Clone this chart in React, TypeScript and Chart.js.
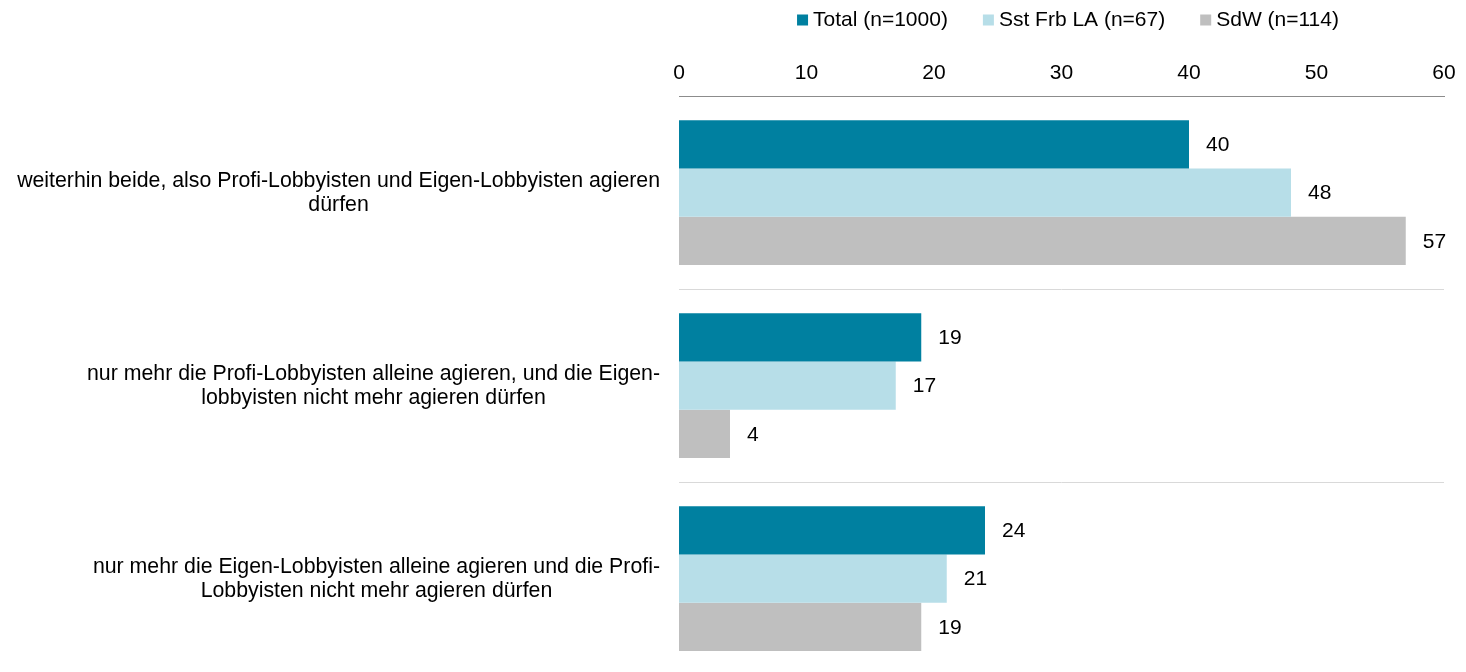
import React, { useEffect, useRef } from "react";
import { Chart, registerables } from "chart.js";

Chart.register(...registerables);

// ---- data ----
const categories: string[][] = [
  ["weiterhin beide, also Profi-Lobbyisten und Eigen-Lobbyisten agieren", "dürfen"],
  ["nur mehr die Profi-Lobbyisten alleine agieren, und die Eigen-", "lobbyisten nicht mehr agieren dürfen"],
  ["nur mehr die Eigen-Lobbyisten alleine agieren und die Profi-", "Lobbyisten nicht mehr agieren dürfen"],
];
const seriesNames = ["Total (n=1000)", "Sst Frb LA (n=67)", "SdW (n=114)"];
const totalValues = [40, 19, 24];
const sstValues = [48, 17, 21];
const sdwValues = [57, 4, 19];
const xMin = 0;
const xMax = 60;
const xStep = 10;

// ---- styles ----
const seriesColors = ["#0080A0", "#B7DEE8", "#BFBFBF"];
const FONT_FAMILY = '"Liberation Sans", Arial, Helvetica, sans-serif';
const FONT_SIZE = 21;
const LABEL_FONT_SIZE = 21.3;
const TEXT_COLOR = "#000000";

const valueLabelPlugin = {
  id: "valueLabels",
  afterDatasetsDraw(chart: any) {
    const ctx = chart.ctx;
    ctx.save();
    ctx.font = `${FONT_SIZE}px ${FONT_FAMILY}`;
    ctx.fillStyle = TEXT_COLOR;
    ctx.textAlign = "left";
    ctx.textBaseline = "middle";
    chart.data.datasets.forEach((ds: any, i: number) => {
      const meta = chart.getDatasetMeta(i);
      meta.data.forEach((bar: any, j: number) => {
        ctx.fillText(String(ds.data[j]), bar.x + 17, bar.y + 1);
      });
    });
    ctx.restore();
  },
};

const categoryLabelPlugin = {
  id: "categoryLabels",
  afterDraw(chart: any) {
    const ctx = chart.ctx;
    const yScale = chart.scales.y;
    const right = chart.chartArea.left - 19;
    const lh = 24;
    ctx.save();
    ctx.font = `${LABEL_FONT_SIZE}px ${FONT_FAMILY}`;
    ctx.fillStyle = TEXT_COLOR;
    ctx.textAlign = "center";
    ctx.textBaseline = "middle";
    (chart.data.labels as string[][]).forEach((lines, i) => {
      const y = yScale.getPixelForValue(i) + 1;
      const maxW = Math.max(...lines.map((l) => ctx.measureText(l).width));
      const cx = right - maxW / 2;
      const y0 = y - ((lines.length - 1) * lh) / 2;
      lines.forEach((l, k) => ctx.fillText(l, cx, y0 + k * lh));
    });
    ctx.restore();
  },
};

const legendPlugin = {
  id: "customLegend",
  afterDraw(chart: any) {
    const ctx = chart.ctx;
    ctx.save();
    ctx.font = `${FONT_SIZE}px ${FONT_FAMILY}`;
    const box = 11;
    const boxGap = 5;
    const itemGap = 35;
    const items = chart.data.datasets.map((ds: any) => ({
      text: ds.label,
      color: ds.backgroundColor,
      w: ctx.measureText(ds.label).width,
    }));
    const total =
      items.reduce((s: number, it: any) => s + box + boxGap + it.w, 0) + itemGap * (items.length - 1);
    let x = 1068 - total / 2;
    const cy = 20;
    ctx.textAlign = "left";
    ctx.textBaseline = "middle";
    items.forEach((it: any) => {
      ctx.fillStyle = it.color;
      ctx.fillRect(x, cy - box / 2, box, box);
      ctx.fillStyle = TEXT_COLOR;
      ctx.fillText(it.text, x + box + boxGap, cy);
      x += box + boxGap + it.w + itemGap;
    });
    ctx.restore();
  },
};

export default function App() {
  const canvasRef = useRef<HTMLCanvasElement | null>(null);

  useEffect(() => {
    const canvas = canvasRef.current;
    if (!canvas) return;
    const chart = new Chart(canvas, {
      type: "bar",
      data: {
        labels: categories as any,
        datasets: [
          { label: seriesNames[0], data: totalValues, backgroundColor: seriesColors[0] },
          { label: seriesNames[1], data: sstValues, backgroundColor: seriesColors[1] },
          { label: seriesNames[2], data: sdwValues, backgroundColor: seriesColors[2] },
        ],
      },
      options: {
        indexAxis: "y",
        animation: false,
        responsive: false,
        devicePixelRatio: 1,
        layout: { padding: { left: 0, right: 22, top: 0, bottom: 1 } },
        datasets: {
          bar: { categoryPercentage: 0.75, barPercentage: 1.0, borderWidth: 0 },
        },
        plugins: {
          legend: { display: false },
          tooltip: { enabled: false },
          title: { display: false },
        },
        scales: {
          x: {
            position: "top",
            min: xMin,
            max: xMax,
            ticks: {
              stepSize: xStep,
              color: TEXT_COLOR,
              font: { family: FONT_FAMILY, size: FONT_SIZE },
              padding: 10,
              maxRotation: 0,
            },
            grid: { display: false, drawTicks: false },
            border: { display: true, color: "#8c8c8c", width: 1 },
            afterFit: (scale: any) => {
              scale.height = 96;
            },
          },
          y: {
            ticks: { display: false },
            grid: {
              display: true,
              offset: true,
              drawTicks: false,
              color: (c: any) => (c.index === 0 ? "#8c8c8c" : "#d9d9d9"),
              lineWidth: 1,
            },
            border: { display: false },
            afterFit: (scale: any) => {
              scale.width = 679;
            },
          },
        },
      } as any,
      plugins: [valueLabelPlugin, categoryLabelPlugin, legendPlugin],
    });
    return () => chart.destroy();
  }, []);

  return (
    <div
      style={{
        position: "absolute",
        left: 0,
        top: 0,
        width: 1466,
        height: 672,
        overflow: "hidden",
        background: "#ffffff",
      }}
    >
      <canvas ref={canvasRef} width={1466} height={676} style={{ width: 1466, height: 676, display: "block" }} />
    </div>
  );
}
